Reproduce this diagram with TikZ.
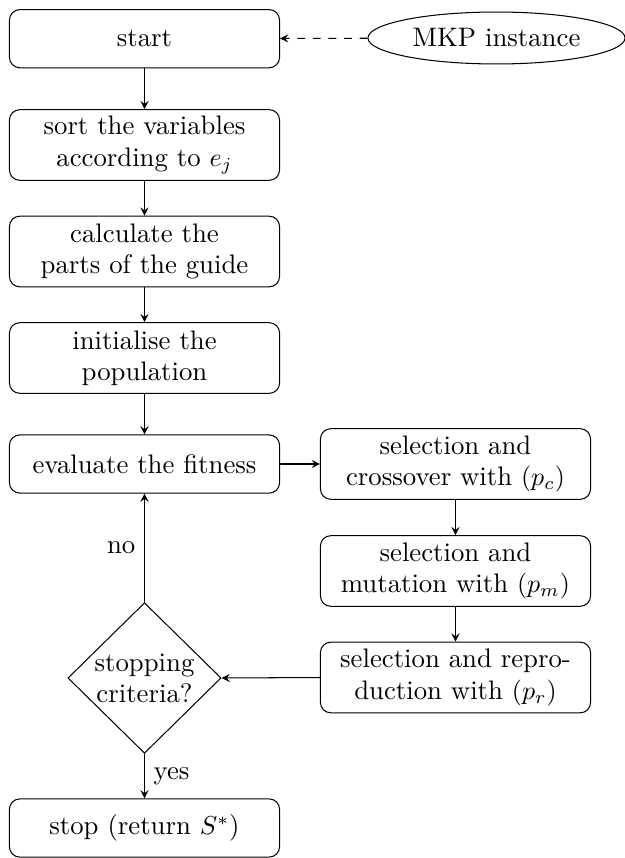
\documentclass[tikz,border=0pt]{standalone}
\usetikzlibrary{shapes.geometric,arrows}
\begin{document}
\begin{tikzpicture}[x=0.385pt,y=-0.385pt,
  every node/.style={font=\fontsize{10.3}{12}\selectfont},
  box/.style={draw,rounded corners=4pt,align=center,minimum width=104pt,minimum height=22.4pt,inner sep=2pt},
  tallbox/.style={box,minimum height=27.2pt},
  decision/.style={draw,diamond,aspect=1,align=center,inner sep=0pt,minimum width=59pt,minimum height=58pt},
  source/.style={draw,ellipse,inner sep=0pt,minimum width=99pt,minimum height=20pt},
  flow/.style={-stealth}]
\useasboundingbox (0,0) rectangle (625,858);

\node[box] (start) at (144.5,38.7) {start};
\node[source] (mkp) at (496.5,38) {MKP instance};
\node[tallbox] (sort) at (144.5,145) {sort the variables\\according to $e_j$};
\node[tallbox] (calc) at (144.5,251.5) {calculate the\\parts of the guide};
\node[tallbox] (init) at (144.5,358) {initialise the\\population};
\node[box] (eval) at (144.5,464) {evaluate the fitness};
\node[decision] (stopq) at (144.5,678) {stopping\\criteria?};
\node[box] (stop) at (144.5,828) {stop (return $S^{*}$)};

\node[tallbox] (cross) at (455.5,464) {selection and\\crossover with $(p_c)$};
\node[tallbox] (mut) at (455.5,571) {selection and\\mutation with $(p_m)$};
\node[tallbox] (repro) at (455.5,677.5) {selection and repro-\\duction with $(p_r)$};

\draw[flow,dashed] (mkp) -- (start);
\draw[flow] (start) -- (sort);
\draw[flow] (sort) -- (calc);
\draw[flow] (calc) -- (init);
\draw[flow] (init) -- (eval);
\draw[flow] (eval) -- (cross);
\draw[flow] (cross) -- (mut);
\draw[flow] (mut) -- (repro);
\draw[flow] (repro.west) -- (stopq.east);
\draw[flow] (stopq) -- node[left] {no} (eval);
\draw[flow] (stopq) -- node[right] {yes} (stop);
\end{tikzpicture}
\end{document}
